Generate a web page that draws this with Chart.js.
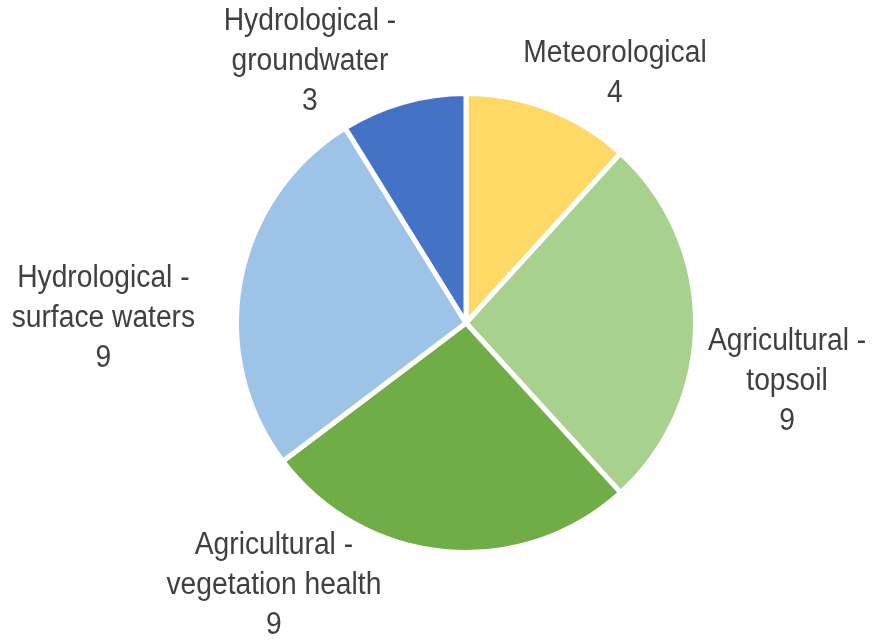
<!DOCTYPE html>
<html>
<head>
<meta charset="utf-8">
<script src="https://cdn.jsdelivr.net/npm/chart.js@4.4.1/dist/chart.umd.min.js"></script>
<style>
  html, body { margin: 0; padding: 0; background: #ffffff; }
  #wrap { width: 872px; height: 641px; }
</style>
</head>
<body>
<div id="wrap"><canvas id="droughtPie" width="872" height="641"></canvas></div>
<script>
// Drought index categories, clockwise from 12 o'clock
const categories = [
    'Meteorological',
    'Agricultural - topsoil',
    'Agricultural - vegetation health',
    'Hydrological - surface waters',
    'Hydrological - groundwater'
];
const counts = [4, 9, 9, 9, 3];
const sliceColors = ['#FFD966', '#A9D18E', '#70AD47', '#9DC3E6', '#4472C4'];

// where each label block sits, relative to pie centre, in units of the radius
const labelOffsets = [
    [0.649, -1.089],
    [1.399, 0.253],
    [-0.837, 1.142],
    [-1.580, -0.020],
    [-0.680, -1.139]
];

function splitLabel(name) {
    const idx = name.indexOf(' - ');
    if (idx < 0) return [name];
    return [name.slice(0, idx) + ' -', name.slice(idx + 3)];
}

// Draws the category name + value outside each slice
const outsideLabels = {
    id: 'outsideLabels',
    afterDatasetsDraw(chart) {
        const ctx = chart.ctx;
        const meta = chart.getDatasetMeta(0);
        const values = chart.data.datasets[0].data;
        ctx.save();
        ctx.font = '31px "Liberation Sans", Arial, sans-serif';
        ctx.fillStyle = '#404040';
        ctx.textAlign = 'center';
        ctx.textBaseline = 'middle';
        const lineHeight = 40;
        meta.data.forEach((arc, i) => {
            const r = arc.outerRadius;
            const cx = arc.x + labelOffsets[i][0] * r;
            const cy = arc.y + labelOffsets[i][1] * r;
            const lines = splitLabel(chart.data.labels[i]).concat([String(values[i])]);
            const top = cy - (lines.length - 1) * lineHeight / 2;
            lines.forEach((line, j) => {
                ctx.save();
                ctx.translate(cx, top + j * lineHeight);
                ctx.scale(0.91, 1);
                ctx.fillText(line, 0, 0);
                ctx.restore();
            });
        });
        ctx.restore();
    }
};

const chart = new Chart(document.getElementById('droughtPie'), {
    type: 'pie',
    data: {
        labels: categories,
        datasets: [{
            data: counts,
            backgroundColor: sliceColors,
            borderColor: '#ffffff',
            borderWidth: 5
        }]
    },
    options: {
        responsive: false,
        animation: false,
        devicePixelRatio: 1,
        layout: {
            padding: { left: 234, right: 174, top: 91, bottom: 86 }
        },
        plugins: {
            legend: { display: false },
            tooltip: { enabled: false }
        }
    },
    plugins: [outsideLabels]
});
</script>
</body>
</html>
